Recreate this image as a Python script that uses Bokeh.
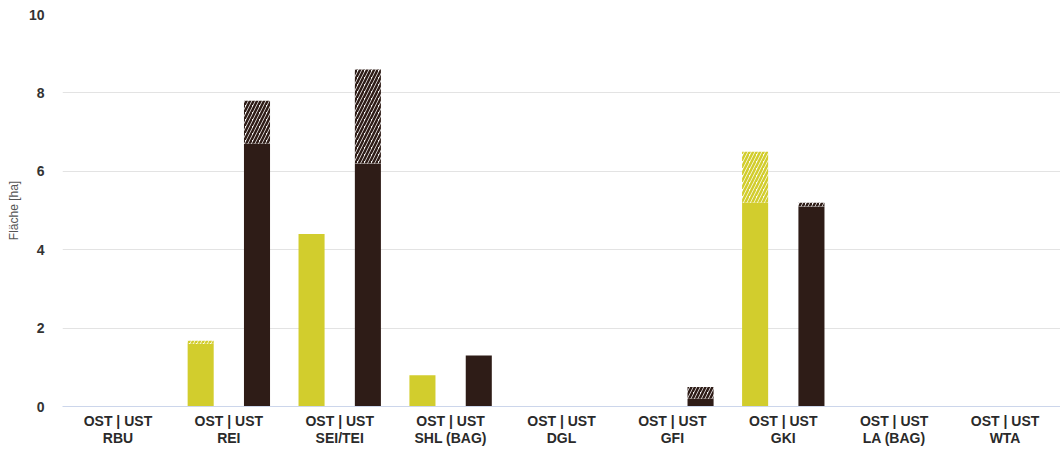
from bokeh.plotting import figure
from bokeh.models import ColumnDataSource, LinearAxis, FixedTicker
from bokeh.embed import file_html
from bokeh.resources import INLINE

categories = ["RBU", "REI", "SEI/TEI", "SHL (BAG)", "DGL", "GFI", "GKI", "LA (BAG)", "WTA"]
group_label = "OST | UST"
ost_solid = [0, 1.6, 4.4, 0.8, 0, 0, 5.2, 0, 0]
ost_hatched = [0, 0.08, 0, 0, 0, 0, 1.3, 0, 0]
ust_solid = [0, 6.7, 6.2, 1.3, 0, 0.2, 5.1, 0, 0]
ust_hatched = [0, 1.1, 2.4, 0, 0, 0.3, 0.1, 0, 0]
y_ticks = [0, 2, 4, 6, 8, 10]

YELLOW = "#d2cd2d"
DARK = "#2e1c17"
FONT = "Liberation Sans"

pos = list(range(len(categories)))
off = 0.254
w = 0.235

src = ColumnDataSource(dict(
    x_ost=[i - off for i in pos],
    x_ust=[i + off for i in pos],
    ost_solid=ost_solid,
    ost_total=[a + b for a, b in zip(ost_solid, ost_hatched)],
    ust_solid=ust_solid,
    ust_total=[a + b for a, b in zip(ust_solid, ust_hatched)],
))

p = figure(x_range=(-0.5, len(categories) - 0.5), y_range=(0, 10), width=1060, height=448,
           output_backend="svg", toolbar_location=None,
           min_border_left=62, min_border_right=0, min_border_top=14,
           min_border_bottom=41, x_axis_location=None)
p.outline_line_color = None
p.background_fill_color = "white"

HATCH = "right_diagonal_line"
p.vbar(x="x_ost", bottom=0, top="ost_solid", width=w,
       source=src, fill_color=YELLOW, line_color=None)
p.vbar(x="x_ost", bottom="ost_solid", top="ost_total", width=w,
       source=src, fill_color="white", line_color=None,
       hatch_pattern=HATCH, hatch_color=YELLOW, hatch_scale=7, hatch_weight=2.5)
p.vbar(x="x_ust", bottom=0, top="ust_solid", width=w,
       source=src, fill_color=DARK, line_color=None)
p.vbar(x="x_ust", bottom="ust_solid", top="ust_total", width=w,
       source=src, fill_color="white", line_color=None,
       hatch_pattern=HATCH, hatch_color=DARK, hatch_scale=7, hatch_weight=2.5)

# grid
p.xgrid.grid_line_color = None
p.ygrid.grid_line_color = "#e3e3e3"
p.ygrid.ticker = FixedTicker(ticks=y_ticks)

# y axis
p.yaxis.ticker = FixedTicker(ticks=y_ticks)
p.yaxis.axis_line_color = None
p.yaxis.major_tick_line_color = None
p.yaxis.minor_tick_line_color = None
p.yaxis.major_label_standoff = 12
p.yaxis.major_label_text_font = FONT
p.yaxis.major_label_text_font_style = "bold"
p.yaxis.major_label_text_font_size = "14px"
p.yaxis.major_label_text_color = "#333333"
p.yaxis.axis_label = "Fläche [ha]"
p.yaxis.axis_label_text_font = FONT
p.yaxis.axis_label_text_font_style = "normal"
p.yaxis.axis_label_text_font_size = "12px"
p.yaxis.axis_label_text_color = "#555555"
p.yaxis.axis_label_standoff = 5

label_style = dict(major_tick_line_color=None, minor_tick_line_color=None,
                   major_label_text_font=FONT, major_label_text_font_style="bold",
                   major_label_text_font_size="14px", major_label_text_color="#2a2a2a")

# x axis, first line
xa = LinearAxis(ticker=FixedTicker(ticks=pos), axis_line_color="#ccd6eb",
                major_label_standoff=0,
                major_label_overrides={i: group_label for i in pos}, **label_style)
p.add_layout(xa, "below")

# x axis, second line (category names)
xa2 = LinearAxis(ticker=FixedTicker(ticks=pos), axis_line_color=None,
                 major_label_standoff=-8,
                 major_label_overrides={i: c for i, c in zip(pos, categories)}, **label_style)
p.add_layout(xa2, "below")

open("out.html", "w").write(file_html(p, INLINE))
